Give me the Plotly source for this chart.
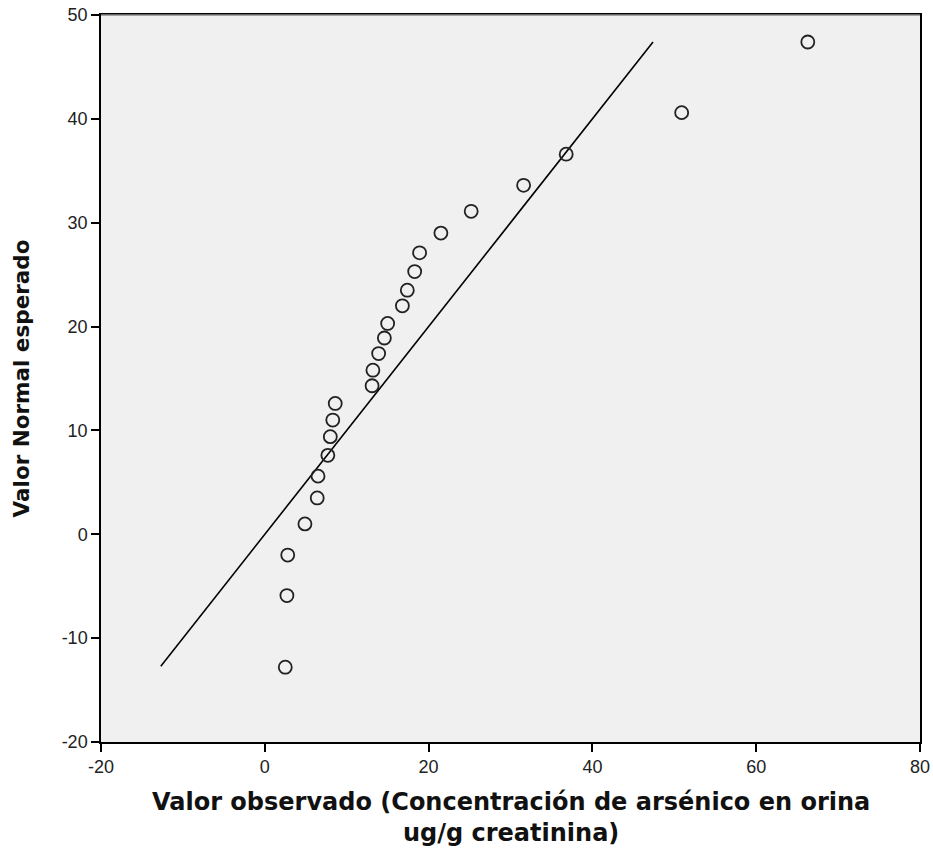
import plotly.graph_objects as go

observed = [66.3, 50.9, 36.8, 31.6, 25.2, 21.5, 18.9, 18.3, 17.4, 16.8, 15.0, 14.6, 13.9,
            13.2, 13.1, 8.6, 8.3, 8.0, 7.7, 6.5, 6.4, 4.9, 2.8, 2.7, 2.5]
expected = [47.4, 40.6, 36.6, 33.6, 31.1, 29.0, 27.1, 25.3, 23.5, 22.0, 20.3, 18.9, 17.4,
            15.8, 14.3, 12.6, 11.0, 9.4, 7.6, 5.6, 3.5, 1.0, -2.0, -5.9, -12.8]
ref_line = [-12.7, 47.4]

x_ticks = [-20, 0, 20, 40, 60, 80]
x_labels = ["-20", "0", "20", "40", "60", "80"]
y_ticks = [-20, -10, 0, 10, 20, 30, 40, 50]
y_labels = ["-20", "-10", "0", "10", "20", "30", "40", "50"]

x_title = "Valor observado (Concentración de arsénico en orina<br>ug/g creatinina)"
y_title = "Valor Normal esperado"

fig = go.Figure()
fig.add_trace(go.Scatter(x=ref_line, y=ref_line, mode="lines",
                         line=dict(color="black", width=1.6), showlegend=False))
fig.add_trace(go.Scatter(x=observed, y=expected, mode="markers",
                         marker=dict(symbol="circle-open", size=13, color="#222",
                                     line=dict(width=1.8, color="#222")),
                         showlegend=False))

axis_common = dict(showgrid=False, zeroline=False, showline=True, linecolor="black",
                   linewidth=1.5, mirror=True, ticks="outside", ticklen=8,
                   tickcolor="black", tickwidth=1.5, automargin=False,
                   tickfont=dict(family="Liberation Sans", size=18, color="#222"))

fig.update_layout(
    width=933, height=848,
    margin=dict(l=101, r=13, t=15, b=106),
    paper_bgcolor="white", plot_bgcolor="#f0f0f0",
    xaxis=dict(range=[-20, 80], tickvals=x_ticks, ticktext=x_labels, **axis_common),
    yaxis=dict(range=[-20, 50], tickvals=y_ticks, ticktext=y_labels, **axis_common),
)
fig.add_annotation(text=x_title, xref="paper", yref="paper", x=0.5, y=-0.104,
                   xanchor="center", yanchor="middle", showarrow=False, align="center",
                   font=dict(family="DejaVu Sans", size=24, color="#111", weight="bold"))
fig.add_annotation(text=y_title, xref="paper", yref="paper", x=-0.0965, y=0.5,
                   xanchor="center", yanchor="middle", showarrow=False, textangle=-90,
                   font=dict(family="DejaVu Sans", size=21.5, color="#111", weight="bold"))
fig.add_shape(type="line", xref="paper", yref="paper", x0=0, x1=1, y0=1, y1=1,
              line=dict(color="#888", width=1.5))

fig.write_html("out.html")
